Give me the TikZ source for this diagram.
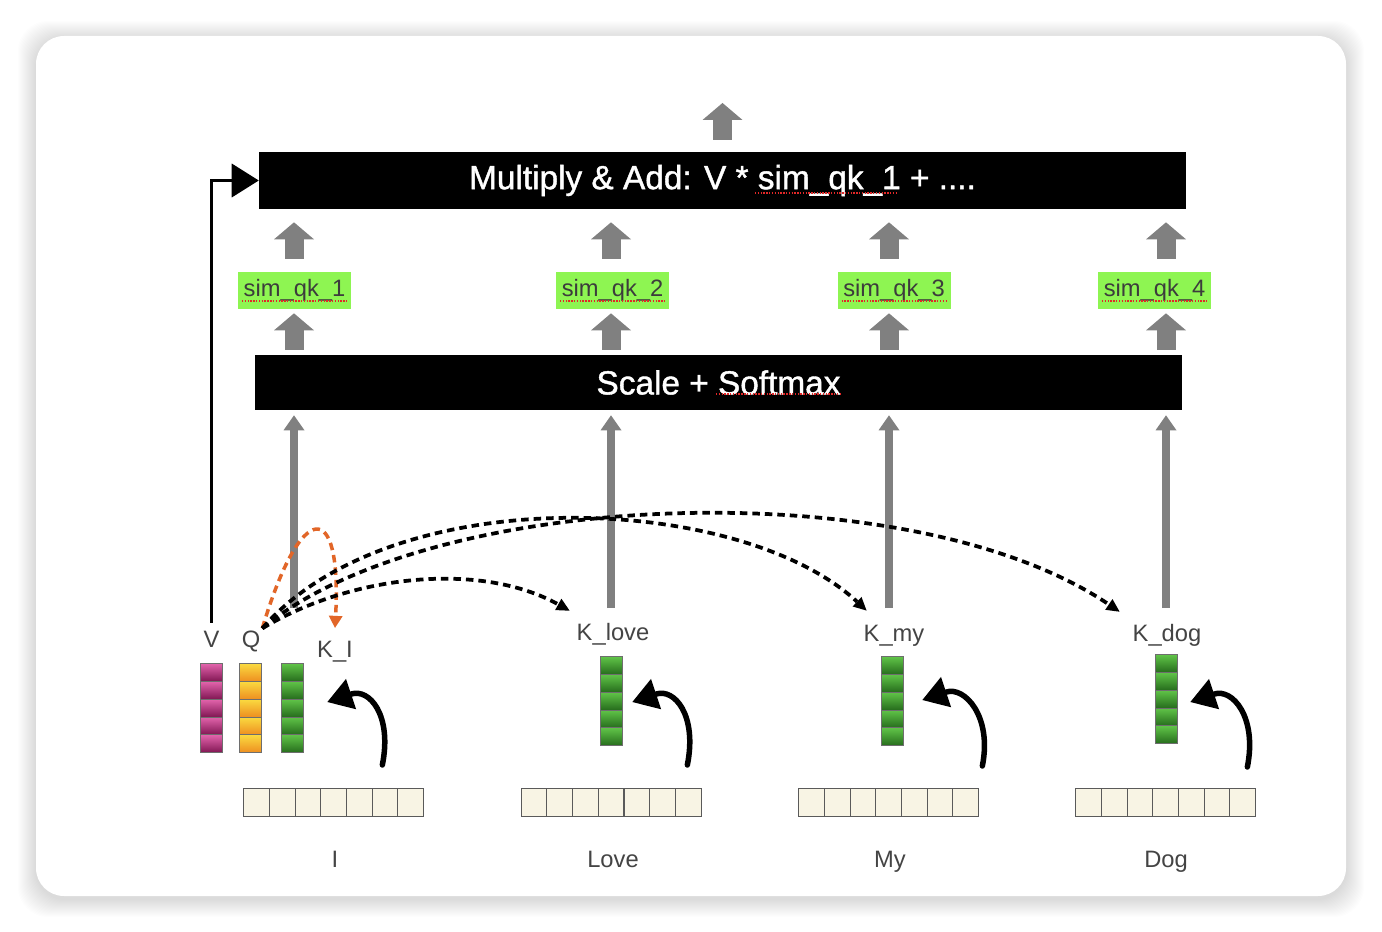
\documentclass[tikz,border=0pt]{standalone}
\usepackage{fontspec}
\setmainfont{Liberation Sans}
\newfontfamily\barfont[FakeBold=1.2]{Liberation Sans}
\usepackage{tikz}
\usetikzlibrary{arrows.meta, positioning, calc}
\usepackage{xcolor}

\definecolor{arrowgray}{RGB}{128,128,128}
\definecolor{simgreen}{RGB}{142,245,82}
\definecolor{simtext}{RGB}{60,60,60}
\definecolor{labgray}{RGB}{68,68,68}
\definecolor{cream}{RGB}{248,244,228}
\definecolor{embline}{RGB}{90,90,90}
\definecolor{cellline}{RGB}{110,110,110}
\definecolor{magtop}{RGB}{226,100,172}
\definecolor{magbot}{RGB}{128,22,82}
\definecolor{orgtop}{RGB}{250,218,64}
\definecolor{orgbot}{RGB}{238,142,32}
\definecolor{grntop}{RGB}{96,196,72}
\definecolor{grnbot}{RGB}{38,108,28}
\definecolor{selforange}{RGB}{226,102,40}
\definecolor{spellred}{RGB}{225,40,40}

\begin{document}
\begin{tikzpicture}[
    x=0.02cm, y=-0.02cm,
    bar/.style={rectangle, fill=black, text=white, inner sep=0pt, minimum width=18.54cm, minimum height=1.14cm, font=\barfont\fontsize{19}{22}\selectfont},
    simbox/.style={rectangle, fill=simgreen, text=simtext, inner sep=0pt, minimum width=2.26cm, minimum height=0.74cm, font=\fontsize{13.5}{16}\selectfont},
    lab/.style={text=labgray, inner sep=1pt, anchor=base, font=\fontsize{13.5}{16}\selectfont},
    vec/.style={rectangle, inner sep=0pt, minimum width=0.44cm, minimum height=1.78cm},
    emb/.style={rectangle, inner sep=0pt, minimum width=3.6cm, minimum height=0.56cm},
    cell/.style={draw=cellline, line width=0.5pt},
    embcell/.style={draw=embline, fill=cream, line width=0.6pt},
    fat/.style={draw=arrowgray, line width=0.38cm, -{Triangle[length=0.34cm, width=0.8cm, line width=0pt]}},
    riser/.style={draw=arrowgray, line width=0.16cm, -{Triangle[length=0.3cm, width=0.42cm, line width=0pt]}},
    sketch/.style={draw=black, line width=0.11cm, line cap=round, -{Triangle[length=0.5cm, width=0.64cm, line width=0pt]}},
    vlink/.style={draw=black, line width=0.07cm, -{Triangle[length=0.54cm, width=0.68cm, line width=0pt]}},
    qk/.style={draw=black, line width=0.075cm, dash pattern=on 0.15cm off 0.1cm, -{Triangle[length=0.26cm, width=0.26cm, line width=0pt]}},
    self/.style={draw=selforange, line width=0.07cm, dash pattern=on 0.15cm off 0.1cm, -{Triangle[length=0.24cm, width=0.28cm, line width=0pt]}},
    spell/.style={draw=spellred, line width=0.7pt, dash pattern=on 0.8pt off 0.8pt}
]

% === Card ===
\useasboundingbox (0,0) rectangle (1382,932);
\fill[white] (0,0) rectangle (1382,932);
\foreach \s in {1,...,18}
    \fill[black, opacity=0.008, rounded corners=0.6cm] (36-\s,36-\s+3) rectangle (1346+\s,896+\s+3);
\fill[white, rounded corners=0.56cm] (36,36) rectangle (1346,896);

% === Blocks ===
\node[bar] (mult) at (722.5,180.5) {Multiply \& Add: V * sim\_qk\_1 + ....};
\node[bar, minimum height=1.1cm] (scale) at (718.5,382.5) {Scale + Softmax};

\node[simbox] (sim1) at (294.5,290.5) {sim\_qk\_1};
\node[simbox] (sim2) at (612.5,290.5) {sim\_qk\_2};
\node[simbox] (sim3) at (894,290.5) {sim\_qk\_3};
\node[simbox] (sim4) at (1154.5,290.5) {sim\_qk\_4};

% spell-check marks
\draw[spell] ([shift={(32.5,12.5)}]mult.center) -- ++(142,0);
\draw[spell] ([shift={(-2.5,11.5)}]scale.center) -- ++(124,0);
\draw[spell] ([shift={(-52.5,10.5)}]sim1.center) -- ++(105,0);
\draw[spell] ([shift={(-52.5,10.5)}]sim2.center) -- ++(105,0);
\draw[spell] ([shift={(-52.5,10.5)}]sim3.center) -- ++(105,0);
\draw[spell] ([shift={(-52.5,10.5)}]sim4.center) -- ++(105,0);

% === Up arrows ===
\coordinate (c1) at (294,608);
\coordinate (c2) at (611,608);
\coordinate (c3) at (889,608);
\coordinate (c4) at (1166,608);
\coordinate (out) at (722.5,103);

\draw[riser, shorten >=0.1cm] (c1) -- (c1 |- scale.south);
\draw[riser, shorten >=0.1cm] (c2) -- (c2 |- scale.south);
\draw[riser, shorten >=0.1cm] (c3) -- (c3 |- scale.south);
\draw[riser, shorten >=0.1cm] (c4) -- (c4 |- scale.south);

\draw[fat, shorten <=0.1cm, shorten >=0.08cm] (c1 |- scale.north) -- (c1 |- sim1.south);
\draw[fat, shorten <=0.1cm, shorten >=0.08cm] (c2 |- scale.north) -- (c2 |- sim2.south);
\draw[fat, shorten <=0.1cm, shorten >=0.08cm] (c3 |- scale.north) -- (c3 |- sim3.south);
\draw[fat, shorten <=0.1cm, shorten >=0.08cm] (c4 |- scale.north) -- (c4 |- sim4.south);

\draw[fat, shorten <=0.26cm, shorten >=0.26cm] (c1 |- sim1.north) -- (c1 |- mult.south);
\draw[fat, shorten <=0.26cm, shorten >=0.26cm] (c2 |- sim2.north) -- (c2 |- mult.south);
\draw[fat, shorten <=0.26cm, shorten >=0.26cm] (c3 |- sim3.north) -- (c3 |- mult.south);
\draw[fat, shorten <=0.26cm, shorten >=0.26cm] (c4 |- sim4.north) -- (c4 |- mult.south);
\draw[fat, shorten <=0.24cm] (mult.north) -- (out);

% === Vectors ===
\node[vec] (vV) at (212,708.5) {};
\node[vec] (vQ) at (250.5,708.5) {};
\node[vec] (kI) at (293,708.5) {};
\node[vec] (kLove) at (612,701.5) {};
\node[vec] (kMy) at (893,701.5) {};
\node[vec] (kDog) at (1167,699.5) {};

\foreach \v/\ct/\cb in {vV/magtop/magbot, vQ/orgtop/orgbot, kI/grntop/grnbot, kLove/grntop/grnbot, kMy/grntop/grnbot, kDog/grntop/grnbot}
    \foreach \i in {0,...,4}
        \draw[cell, top color=\ct, bottom color=\cb] ($(\v.north west)+(0,\i*17.8)$) rectangle ++(22,17.8);

\node[emb] (eI) at (334,803) {};
\node[emb] (eLove) at (611.5,803) {};
\node[emb] (eMy) at (889,803) {};
\node[emb] (eDog) at (1166,803) {};

\foreach \e in {eI,eLove,eMy,eDog}
    \foreach \i in {0,...,6}
        \draw[embcell] ($(\e.north west)+(\i*25.7,0)$) rectangle ++(25.7,28);

% === Labels ===
\node[lab] (vlab) at (211.5,647) {V};
\node[lab] (qlab) at (251,647) {Q};
\node[lab] (kIlab) at (335,657) {K\_I};
\node[lab] (kLovelab) at (613,640) {K\_love};
\node[lab] (kMylab) at (894,641) {K\_my};
\node[lab] (kDoglab) at (1167,641) {K\_dog};

\node[lab] (wI) at (335,867) {I};
\node[lab] (wLove) at (613,867) {Love};
\node[lab] (wMy) at (890,867) {My};
\node[lab] (wDog) at (1166,867) {Dog};

% === Projections ===
\draw[sketch] ([shift={(78,56.5)}]kI.east) .. controls +(10,-50) and +(42,-14) .. ([shift={(23,-6.5)}]kI.east);
\draw[sketch] ([shift={(64,63.5)}]kLove.east) .. controls +(10,-50) and +(42,-14) .. ([shift={(9,0.5)}]kLove.east);
\draw[sketch] ([shift={(78,64.5)}]kMy.east) .. controls +(10,-50) and +(42,-14) .. ([shift={(18,-1.5)}]kMy.east);
\draw[sketch] ([shift={(69,67.5)}]kDog.east) .. controls +(10,-50) and +(42,-14) .. ([shift={(12,2.5)}]kDog.east);

\draw[vlink, shorten <=0.12cm] (vlab.north) |- (mult.west);

% === Query-key links ===
\draw[self] (qlab.north east) .. controls +(38,-128) and +(7,-132) .. ([shift={(0,-10.7)}]kIlab.north);
\draw[qk] (qlab.north east) .. controls +(88,-53) and +(-90,-50) .. ([shift={(-5,-10)}]kLovelab.north west);
\draw[qk] (qlab.north east) .. controls +(130,-150) and +(-127,-118) .. ([shift={(5,-12)}]kMylab.north west);
\draw[qk] (qlab.north east) .. controls +(168,-140) and +(-210,-142) .. ([shift={(-11,-10)}]kDoglab.north west);

\end{tikzpicture}
\end{document}
